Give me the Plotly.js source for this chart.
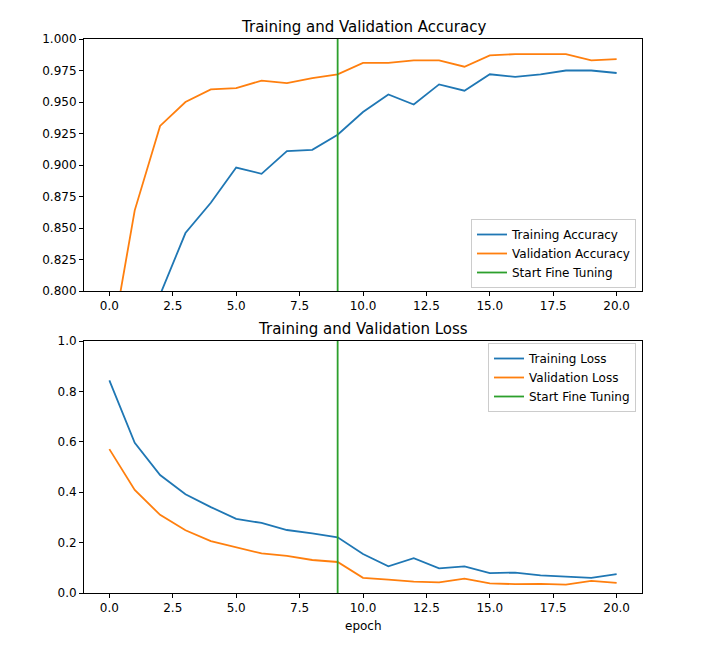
<!DOCTYPE html>
<html>
<head>
<meta charset="utf-8">
<script src="https://cdn.plot.ly/plotly-3.0.1.min.js"></script>
<style>html,body{margin:0;padding:0;background:#fff;}#chart{width:703px;height:654px;}</style>
</head>
<body>
<div id="chart"></div>
<script>
const epochs = [0,1,2,3,4,5,6,7,8,9,10,11,12,13,14,15,16,17,18,19,20];
const trainAcc = [0.62,0.74,0.797,0.846,0.870,0.898,0.893,0.911,0.912,0.924,0.942,0.956,0.948,0.964,0.959,0.972,0.970,0.972,0.975,0.975,0.973];
const valAcc = [0.749,0.864,0.931,0.950,0.960,0.961,0.967,0.965,0.969,0.972,0.981,0.981,0.983,0.983,0.978,0.987,0.988,0.988,0.988,0.983,0.984];
const trainLoss = [0.844,0.596,0.468,0.392,0.341,0.294,0.278,0.250,0.237,0.221,0.155,0.106,0.138,0.098,0.106,0.079,0.081,0.070,0.065,0.060,0.075];
const valLoss = [0.571,0.409,0.310,0.249,0.206,0.180,0.157,0.147,0.131,0.123,0.060,0.053,0.045,0.042,0.057,0.038,0.035,0.036,0.033,0.048,0.040];
const fineTuneEpoch = 9;
const accRange = [0.8, 1.0];
const lossRange = [0.0, 1.0];
const xTicks = [0,2.5,5,7.5,10,12.5,15,17.5,20];
const accTicks = [0.8,0.825,0.85,0.875,0.9,0.925,0.95,0.975,1.0];
const lossTicks = [0,0.2,0.4,0.6,0.8,1.0];

const C1 = '#1f77b4', C2 = '#ff7f0e', C3 = '#2ca02c';
const W = 703, H = 654;
const font = 'DejaVu Sans, sans-serif';

const traces = [
  {x: epochs, y: trainAcc, name: 'Training Accuracy', mode: 'lines', line: {color: C1, width: 1.8}, xaxis: 'x', yaxis: 'y', legend: 'legend'},
  {x: epochs, y: valAcc, name: 'Validation Accuracy', mode: 'lines', line: {color: C2, width: 1.8}, xaxis: 'x', yaxis: 'y', legend: 'legend'},
  {x: [fineTuneEpoch, fineTuneEpoch], y: accRange, name: 'Start Fine Tuning', mode: 'lines', line: {color: C3, width: 1.8}, xaxis: 'x', yaxis: 'y', legend: 'legend'},
  {x: epochs, y: trainLoss, name: 'Training Loss', mode: 'lines', line: {color: C1, width: 1.8}, xaxis: 'x2', yaxis: 'y2', legend: 'legend2'},
  {x: epochs, y: valLoss, name: 'Validation Loss', mode: 'lines', line: {color: C2, width: 1.8}, xaxis: 'x2', yaxis: 'y2', legend: 'legend2'},
  {x: [fineTuneEpoch, fineTuneEpoch], y: lossRange, name: 'Start Fine Tuning', mode: 'lines', line: {color: C3, width: 1.8}, xaxis: 'x2', yaxis: 'y2', legend: 'legend2'}
];

const axBase = {
  showline: true, linecolor: '#000', linewidth: 1, mirror: true,
  ticks: 'outside', ticklen: 4, tickwidth: 1, tickcolor: '#000',
  showgrid: false, zeroline: false, automargin: false,
  tickfont: {family: font, size: 12, color: '#000'}
};
const xd = [84/W, 642/W];
const topY = [(H-291)/H, (H-39)/H];
const botY = [(H-593)/H, (H-341)/H];

const legendBase = {
  bgcolor: 'rgba(255,255,255,0.8)', bordercolor: '#cccccc', borderwidth: 1,
  font: {family: font, size: 12, color: '#000'}, tracegroupgap: 0, itemwidth: 30
};

const layout = {
  width: W, height: H,
  margin: {l: 0, r: 0, t: 0, b: 0},
  paper_bgcolor: '#fff', plot_bgcolor: '#fff',
  font: {family: font, size: 12, color: '#000'},
  xaxis: Object.assign({}, axBase, {domain: xd, range: [-1, 21], tickvals: xTicks, tickformat: '.1f', anchor: 'y'}),
  yaxis: Object.assign({}, axBase, {domain: topY, range: accRange, tickvals: accTicks, tickformat: '.3f', anchor: 'x'}),
  xaxis2: Object.assign({}, axBase, {domain: xd, range: [-1, 21], tickvals: xTicks, tickformat: '.1f', anchor: 'y2'}),
  yaxis2: Object.assign({}, axBase, {domain: botY, range: lossRange, tickvals: lossTicks, tickformat: '.1f', anchor: 'x2'}),
  legend: Object.assign({}, legendBase, {x: 636/W, y: (H-288)/H, xanchor: 'right', yanchor: 'bottom'}),
  legend2: Object.assign({}, legendBase, {x: 636/W, y: (H-343)/H, xanchor: 'right', yanchor: 'top'}),
  showlegend: true,
  annotations: [
    {text: 'Training and Validation Accuracy', xref: 'paper', yref: 'paper', x: 363/W, y: (H-38)/H, xanchor: 'center', yanchor: 'bottom', showarrow: false, font: {family: font, size: 15, color: '#000'}},
    {text: 'Training and Validation Loss', xref: 'paper', yref: 'paper', x: 363/W, y: (H-340)/H, xanchor: 'center', yanchor: 'bottom', showarrow: false, font: {family: font, size: 15, color: '#000'}},
    {text: 'epoch', xref: 'paper', yref: 'paper', x: 363/W, y: (H-617)/H, xanchor: 'center', yanchor: 'top', showarrow: false, font: {family: font, size: 12, color: '#000'}}
  ]
};

Plotly.newPlot('chart', traces, layout, {displayModeBar: false, staticPlot: true});
</script>
</body>
</html>
